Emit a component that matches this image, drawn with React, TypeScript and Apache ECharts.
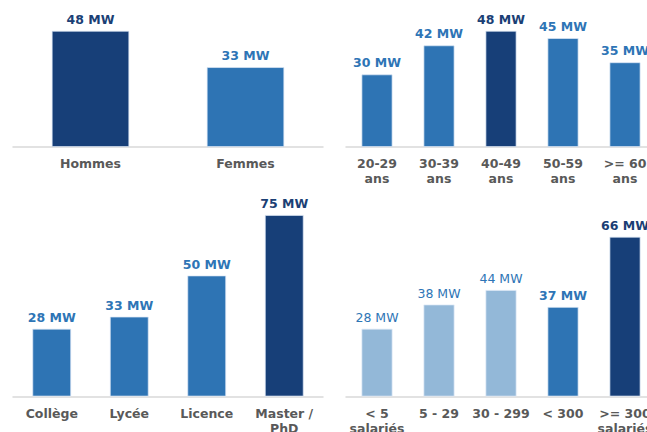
import React, { useEffect, useRef } from "react";
import * as echarts from "echarts";

const genderCats = ["Hommes", "Femmes"];
const genderVals = [48, 33];
const ageCats = ["20-29\nans", "30-39\nans", "40-49\nans", "50-59\nans", ">= 60\nans"];
const ageVals = [30, 42, 48, 45, 35];
const eduCats = ["Collège", "Lycée", "Licence", "Master /\nPhD"];
const eduVals = [28, 33, 50, 75];
const sizeCats = ["< 5\nsalariés", "5 - 29", "30 - 299", "< 300", ">= 300\nsalariés"];
const sizeVals = [28, 38, 44, 37, 66];

const DARK = "#173f78";
const MID = "#2e74b4";
const LIGHT = "#93b8d8";
const DARK_TXT = "#1b3f75";
const MID_TXT = "#2e75b6";

// tone per bar: 'd' dark, 'm' medium, 'l' light
const genderTones = ["d", "m"];
const ageTones = ["m", "m", "d", "m", "m"];
const eduTones = ["m", "m", "m", "d"];
const sizeTones = ["l", "l", "l", "m", "d"];

const FONT = "DejaVu Sans";

function mkData(vals: number[], tones: string[]) {
  return vals.map((v, i) => {
    const t = tones[i];
    const color = t === "d" ? DARK : t === "m" ? MID : LIGHT;
    const txt = t === "d" ? DARK_TXT : MID_TXT;
    return {
      value: v,
      itemStyle: { color, borderColor: "rgba(220,232,245,0.9)", borderWidth: 0.8 },
      label: { color: txt, fontWeight: t === "l" ? "normal" : "bold" },
    };
  });
}

export default function App() {
  const ref = useRef<HTMLDivElement>(null);
  useEffect(() => {
    if (!ref.current) return;
    const chart = echarts.init(ref.current, null, { renderer: "svg" });
    const topH = 121;
    const botH = 193.6;
    const grids = [
      { left: 13, width: 310, top: 147 - topH, height: topH },
      { left: 346, width: 310, top: 147 - topH, height: topH },
      { left: 13, width: 310, top: 396.5 - botH, height: botH },
      { left: 346, width: 310, top: 396.5 - botH, height: botH },
    ];
    const cats = [genderCats, ageCats, eduCats, sizeCats];
    const maxes = [50, 50, 80, 80];
    const datas = [
      mkData(genderVals, genderTones),
      mkData(ageVals, ageTones),
      mkData(eduVals, eduTones),
      mkData(sizeVals, sizeTones),
    ];
    chart.setOption({
      animation: false,
      grid: grids.map((g) => ({ ...g, containLabel: false, outerBoundsMode: "none" })),
      xAxis: cats.map((c, i) => ({
        type: "category",
        gridIndex: i,
        data: c,
        axisLine: { show: true, lineStyle: { color: "#d9d9d9", width: 1.5 } },
        axisTick: { show: false },
        axisLabel: {
          interval: 0,
          color: "#595959",
          fontFamily: FONT,
          fontWeight: "bold",
          fontSize: 12.5,
          lineHeight: 15,
          margin: 9,
        },
      })),
      yAxis: maxes.map((m, i) => ({
        type: "value",
        gridIndex: i,
        min: 0,
        max: m,
        show: false,
        splitLine: { show: false },
      })),
      series: datas.map((d, i) => ({
        type: "bar",
        xAxisIndex: i,
        yAxisIndex: i,
        data: d,
        barWidth: "50%",
        label: {
          show: true,
          position: "top",
          distance: 5,
          fontFamily: FONT,
          fontSize: 12.5,
          formatter: "{c} MW",
        },
      })),
    });
    return () => chart.dispose();
  }, []);
  return (
    <div
      ref={ref}
      style={{ position: "absolute", left: 0, top: 0, width: 647, height: 432, overflow: "hidden" }}
    />
  );
}
